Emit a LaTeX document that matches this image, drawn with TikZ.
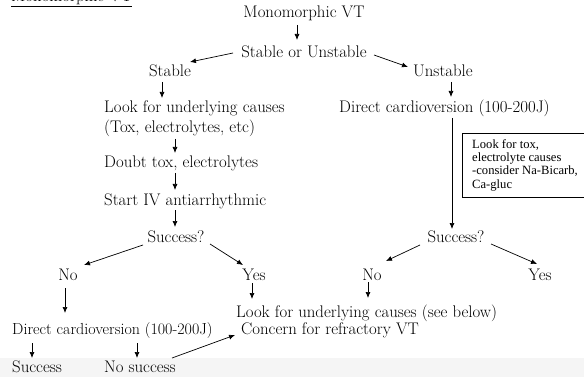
\documentclass[tikz,border=0pt]{standalone}
\usepackage{fontspec}
\newfontfamily\boxfont{Liberation Serif}
\usetikzlibrary{arrows.meta}
\begin{document}
\begin{tikzpicture}[x=1pt,y=-1pt,
  txt/.style={inner sep=0pt,font=\fontsize{16.8}{19}\selectfont},
  lt/.style={txt,anchor=west},
  arr/.style={-{Latex[length=6pt,width=5pt]},line width=0.7pt}]
\useasboundingbox (0,0) rectangle (584,377);
\clip (0,0) rectangle (584,377);
\fill[black!4] (0,358) rectangle (584,377);
% title (cut off at the top edge, as in the reference)
\node[lt,anchor=base west] (title) at (11,2) {\underline{Monomorphic VT}};
\node[txt] (mvt) at (304,13) {Monomorphic VT};
\node[txt] (sou) at (304,52) {Stable or Unstable};
\node[txt] (st) at (170,71) {Stable};
\node[txt] (un) at (443,71) {Unstable};
\node[lt] (look1) at (104,108) {Look for underlying causes};
\node[lt] (look2) at (104,128) {(Tox, electrolytes, etc)};
\node[lt] (dc1) at (339,108) {Direct cardioversion (100-200J)};
\node[lt] (doubt) at (104,163) {Doubt tox, electrolytes};
\node[lt] (iv) at (104,201) {Start IV antiarrhythmic};
\node[txt] (s1) at (176,237) {Success?};
\node[txt] (s2) at (456,237) {Success?};
\node[txt] (no1) at (68,275) {No};
\node[txt] (yes1) at (254,275) {Yes};
\node[txt] (no2) at (372,275) {No};
\node[txt] (yes2) at (540,275) {Yes};
\node[lt] (lookb) at (236,313) {Look for underlying causes (see below)};
\node[lt] (conc) at (241,330) {Concern for refractory VT};
\node[lt,font=\fontsize{16}{19}\selectfont] (dc2) at (12,331) {Direct cardioversion (100-200J)};
\node[lt] (succ) at (12,367) {Success};
\node[lt] (nos) at (104,367) {No success};
\node[draw,line width=0.5pt,anchor=north west,minimum width=122pt,minimum height=64pt,
  inner sep=0pt] (box) at (462,133) {};
\node[anchor=north west,inner sep=0pt,align=left,font=\boxfont\fontsize{12.6}{13.4}\selectfont]
  (boxt) at (472,139) {Look for tox,\\electrolyte causes\\-consider Na-Bicarb,\\Ca-gluc};
% arrows
\draw[arr] (297,25) -- (297,40);
\draw[arr] (233,53) -- (190,62);
\draw[arr] (374,55) -- (408,67);
\draw[arr] (162,82) -- (162,98);
\draw[arr] (451,82) -- (451,97);
\draw[arr] (452,118) -- (452,229);
\draw[arr] (175,139) -- (175,153);
\draw[arr] (175,173) -- (175,190);
\draw[arr] (175,210) -- (175,227);
\draw[arr] (143,245) -- (84,265);
\draw[arr] (210,244) -- (243,265);
\draw[arr] (420,245) -- (386,261);
\draw[arr] (491,244) -- (537,264);
\draw[arr] (65,288) -- (65,313);
\draw[arr] (252,283) -- (252,299);
\draw[arr] (368,282) -- (368,298);
\draw[arr] (32,343) -- (32,358);
\draw[arr] (137,343) -- (137,358);
\draw[arr] (172,358) -- (235,335);
\end{tikzpicture}
\end{document}
